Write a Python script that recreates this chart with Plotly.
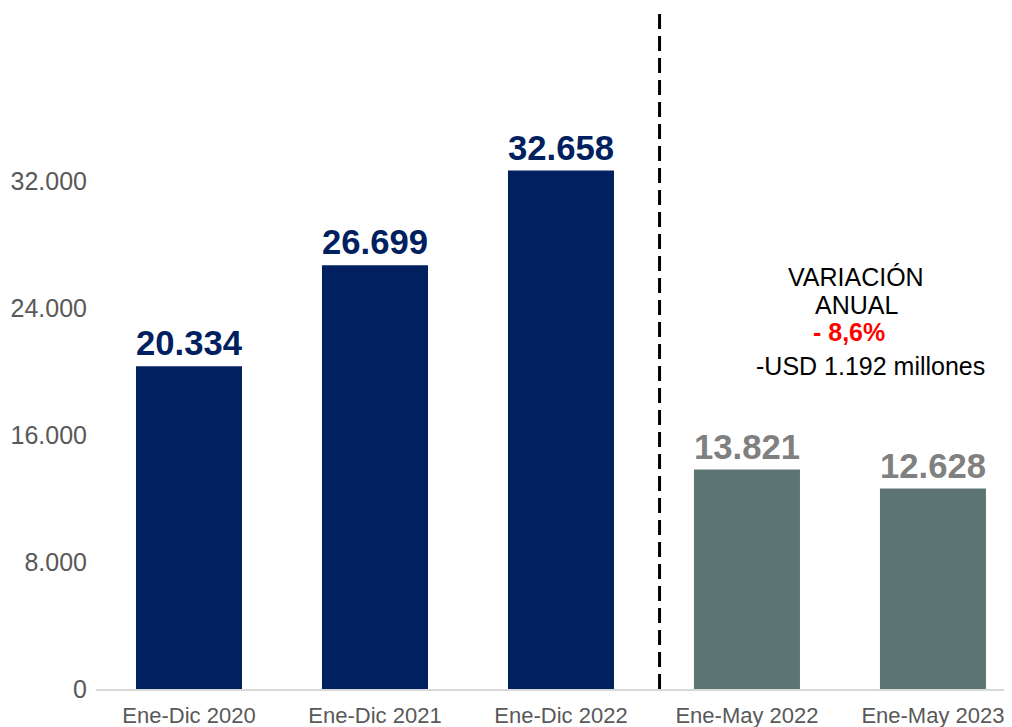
import plotly.graph_objects as go

categories = ["Ene-Dic 2020", "Ene-Dic 2021", "Ene-Dic 2022", "Ene-May 2022", "Ene-May 2023"]
values = [20334, 26699, 32658, 13821, 12628]
bar_colors = ["#002060", "#002060", "#002060", "#5D7474", "#5D7474"]
label_colors = ["#002060", "#002060", "#002060", "#808080", "#808080"]
y_tickvals = [0, 8000, 16000, 24000, 32000]
y_ticktext = ["0", "8.000", "16.000", "24.000", "32.000"]

labels = [f"{v:,}".replace(",", ".") for v in values]

FONT = "Liberation Sans, Arial, sans-serif"

fig = go.Figure()
fig.add_trace(go.Bar(
    x=list(range(len(categories))),
    y=values,
    marker=dict(color=bar_colors, line=dict(width=0)),
    text=labels,
    textposition="outside",
    textfont=dict(family=FONT, size=36, color=label_colors, weight="bold"),
    cliponaxis=False,
    hoverinfo="skip",
))

fig.add_shape(type="line", xref="x", yref="paper", x0=2.53, x1=2.53, y0=0, y1=1,
              line=dict(color="black", width=3, dash="15px,7px"))

common = dict(xref="paper", yref="paper", showarrow=False, xanchor="center", yanchor="middle")
fig.add_annotation(x=0.83, y=0.607, text="VARIACIÓN",
                   font=dict(family=FONT, size=25, color="black"), **common)
fig.add_annotation(x=0.83, y=0.566, text="ANUAL",
                   font=dict(family=FONT, size=25, color="black"), **common)
fig.add_annotation(x=0.822, y=0.526, text="<b>- 8,6%</b>",
                   font=dict(family=FONT, size=25, color="#FF0000"), **common)
fig.add_annotation(x=0.846, y=0.476, text="-USD 1.192 millones",
                   font=dict(family=FONT, size=25, color="black"), **common)

fig.update_layout(
    width=1012, height=727,
    margin=dict(l=88, r=8, t=2, b=46),
    plot_bgcolor="white", paper_bgcolor="white",
    bargap=0.43,
    showlegend=False,
    xaxis=dict(
        range=[-0.5, 4.425],
        tickvals=list(range(len(categories))),
        ticktext=categories,
        tickfont=dict(family=FONT, size=22, color="#595959"),
        showline=True, linecolor="#D9D9D9", linewidth=2,
        showgrid=False, zeroline=False, ticks="",
        ticklabelstandoff=6,
    ),
    yaxis=dict(
        range=[0, 42772],
        tickvals=y_tickvals,
        ticktext=y_ticktext,
        tickfont=dict(family=FONT, size=25, color="#595959"),
        showgrid=False, zeroline=False, showline=False, ticks="",
        ticklabelstandoff=8,
    ),
)

fig.write_html("out.html")
